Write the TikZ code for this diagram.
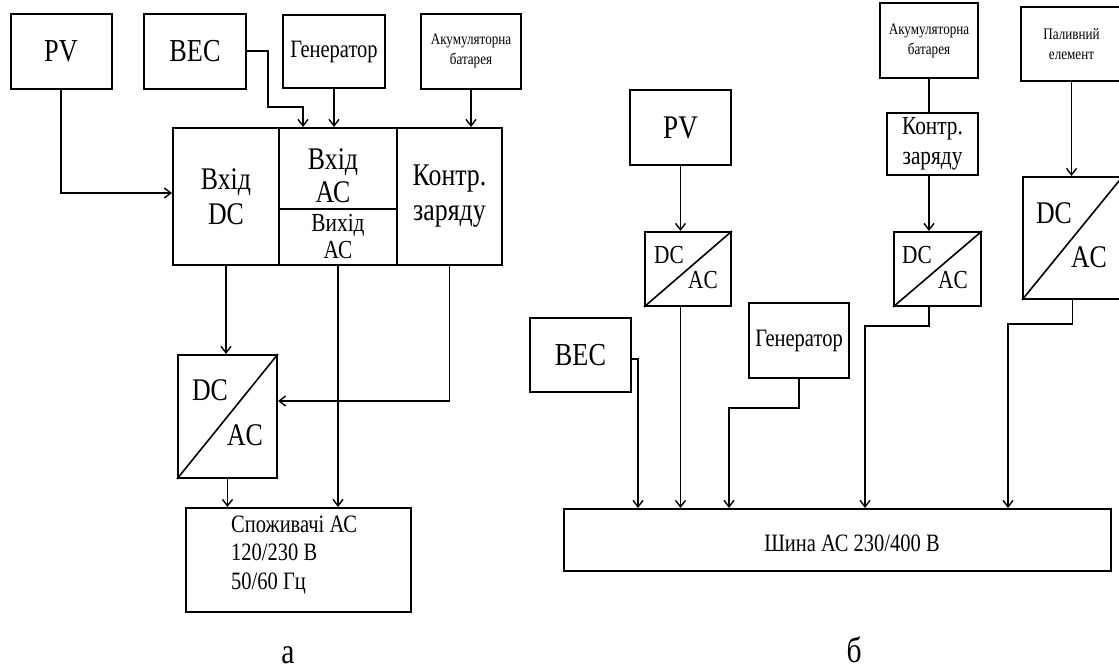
\documentclass[tikz,border=0pt]{standalone}
\usepackage{fontspec}
\setmainfont{Liberation Serif}[FakeStretch=0.82]
\usetikzlibrary{arrows.meta}
\newcommand\fsz[2]{\fontsize{#1}{#2}\selectfont}
\begin{document}
\begin{tikzpicture}[x=1pt,y=-1pt,
  box/.style={draw, line width=2pt, inner sep=0pt, align=center},
  conn/.style={line width=1.6pt},
  arr/.style={conn, -{Straight Barb[length=6.5pt,width=10pt,line width=1.4pt]}},
  txt/.style={inner sep=0pt, align=center},
]
\useasboundingbox (0,0) rectangle (1119,670);
% ---------------- panel a ----------------
\node[box, minimum width=101pt, minimum height=75pt, font=\fsz{32}{36}] (pvL) at (61,51) {PV};
\node[box, minimum width=102pt, minimum height=75pt, font=\fsz{32}{36}] (becL) at (195,51) {ВЕС};
\node[box, minimum width=102pt, minimum height=73pt, font=\fsz{25}{29}] (genL) at (334,51.5) {Генератор};
\node[box, minimum width=100pt, minimum height=75pt, font=\fsz{16}{20}] (akL) at (471,51) {Акумуляторна\\батарея};
\node[box, minimum width=106pt, minimum height=137pt, font=\fsz{31.5}{35}] (mDC) at (226,196.5) {Вхід\\DC};
\node[box, minimum width=118pt, minimum height=81pt] (mACin) at (338,168.5) {};
\node[txt, font=\fsz{31.5}{33}] (tACin) at (333,176) {Вхід\\АС};
\node[box, minimum width=118pt, minimum height=56pt, font=\fsz{26}{27}] (mACout) at (338,237) {Вихід\\АС};
\node[box, minimum width=105pt, minimum height=137pt, font=\fsz{31.5}{35}] (mK) at (449.5,196.5) {Контр.\\заряду};
\node[box, minimum width=99pt, minimum height=123pt] (convL) at (227.5,416.5) {};
\draw[conn] (convL.south west) -- (convL.north east);
\node[txt, font=\fsz{31.5}{35}] (convLdc) at (210,390) {DC};
\node[txt, font=\fsz{31.5}{35}] (convLac) at (245,435) {AC};
\node[box, minimum width=225pt, minimum height=104pt] (consL) at (298.5,560) {};
\node[txt, anchor=west, align=left, font=\fsz{25}{28.5}] (consLt) at (231,555) {Споживачі АС\\120/230 В\\50/60 Гц};
\node[txt, font=\fsz{36}{40}] (labA) at (288,655) {а};
% connectors a
\draw[arr] (pvL.south) |- ([yshift=3.5pt]mDC.west);
\coordinate (b1) at ([xshift=21pt]becL.east);
\coordinate (b2) at ([xshift=25pt]mACin.north west);
\coordinate (b3) at ([yshift=20pt]b2);
\draw[arr] (becL.east) -- (b1) -- (b1 |- b3) -- (b3) -- (b2);
\draw[arr] (genL.south) -- (genL.south |- mACin.north);
\draw[arr] (akL.south) -- (akL.south |- mK.north);
\draw[arr] (mDC.south) -- (mDC.south |- convL.north);
\draw[arr] (mACout.south) -- (mACout.south |- consL.north);
\draw[arr] (mK.south) |- ([yshift=15.5pt]convL.east);
\draw[arr] (convL.south) -- (convL.south |- consL.north);
% ---------------- panel b ----------------
\node[box, minimum width=101pt, minimum height=75pt, font=\fsz{33}{36}] (pvR) at (680.5,127.5) {PV};
\node[box, minimum width=86pt, minimum height=74pt] (cv1) at (688,269) {};
\draw[conn] (cv1.south west) -- (cv1.north east);
\node[txt, font=\fsz{26}{30}] (cv1dc) at (669,255) {DC};
\node[txt, font=\fsz{26}{30}] (cv1ac) at (703,280) {AC};
\node[box, minimum width=101pt, minimum height=74pt, font=\fsz{32}{36}] (becR) at (580.5,355) {ВЕС};
\node[box, minimum width=100pt, minimum height=75pt, font=\fsz{25}{29}] (genR) at (799,340.5) {Генератор};
\node[box, minimum width=98pt, minimum height=75pt, font=\fsz{16}{20}] (akR) at (929,40.5) {Акумуляторна\\батарея};
\node[box, minimum width=91pt, minimum height=62pt, font=\fsz{26}{30}] (kR) at (932.5,144) {Контр.\\заряду};
\node[box, minimum width=87pt, minimum height=74pt] (cv2) at (937.5,269) {};
\draw[conn] (cv2.south west) -- (cv2.north east);
\node[txt, font=\fsz{26}{30}] (cv2dc) at (917,255) {DC};
\node[txt, font=\fsz{26}{30}] (cv2ac) at (953,280) {AC};
\node[box, minimum width=101pt, minimum height=74pt, font=\fsz{16}{20}] (pfR) at (1071.5,44) {Паливний\\елемент};
\node[box, minimum width=99pt, minimum height=122pt] (cv3) at (1072.5,238) {};
\draw[conn] (cv3.south west) -- (cv3.north east);
\node[txt, font=\fsz{31.5}{35}] (cv3dc) at (1054,213) {DC};
\node[txt, font=\fsz{31.5}{35}] (cv3ac) at (1089,257) {AC};
\node[box, minimum width=547pt, minimum height=62pt] (bus) at (837.5,540) {};
\node[txt, font=\fsz{25}{28}] (bust) at (852,543) {Шина АС 230/400 В};
\node[txt, font=\fsz{36}{40}] (labB) at (854,650) {б};
% connectors b
\draw[arr] (pvR.south) -- (pvR.south |- cv1.north);
\draw[conn] (akR.south) -- (akR.south |- kR.north);
\draw[arr] (akR.south |- kR.south) -- (akR.south |- cv2.north);
\draw[arr] (pfR.south) -- (pfR.south |- cv3.north);
\coordinate (jb) at ([xshift=6pt,yshift=-4pt]becR.east);
\draw[arr] ([yshift=-4pt]becR.east) -- (jb) -- (jb |- bus.north);
\draw[arr] (pvR.south |- cv1.south) -- (pvR.south |- bus.north);
\coordinate (g0) at ([xshift=-70pt]genR.south);
\draw[arr] (genR.south) -- ++(0,29) -| (g0 |- bus.north);
\coordinate (c2) at (akR.south |- cv2.south);
\coordinate (c2x) at ([xshift=-64pt]c2);
\draw[arr] (c2) -- ++(0,19) -| (c2x |- bus.north);
\coordinate (c3x) at ([xshift=-64.5pt]cv3.south);
\draw[arr] (cv3.south) -- ++(0,24) -| (c3x |- bus.north);
\end{tikzpicture}
\end{document}
